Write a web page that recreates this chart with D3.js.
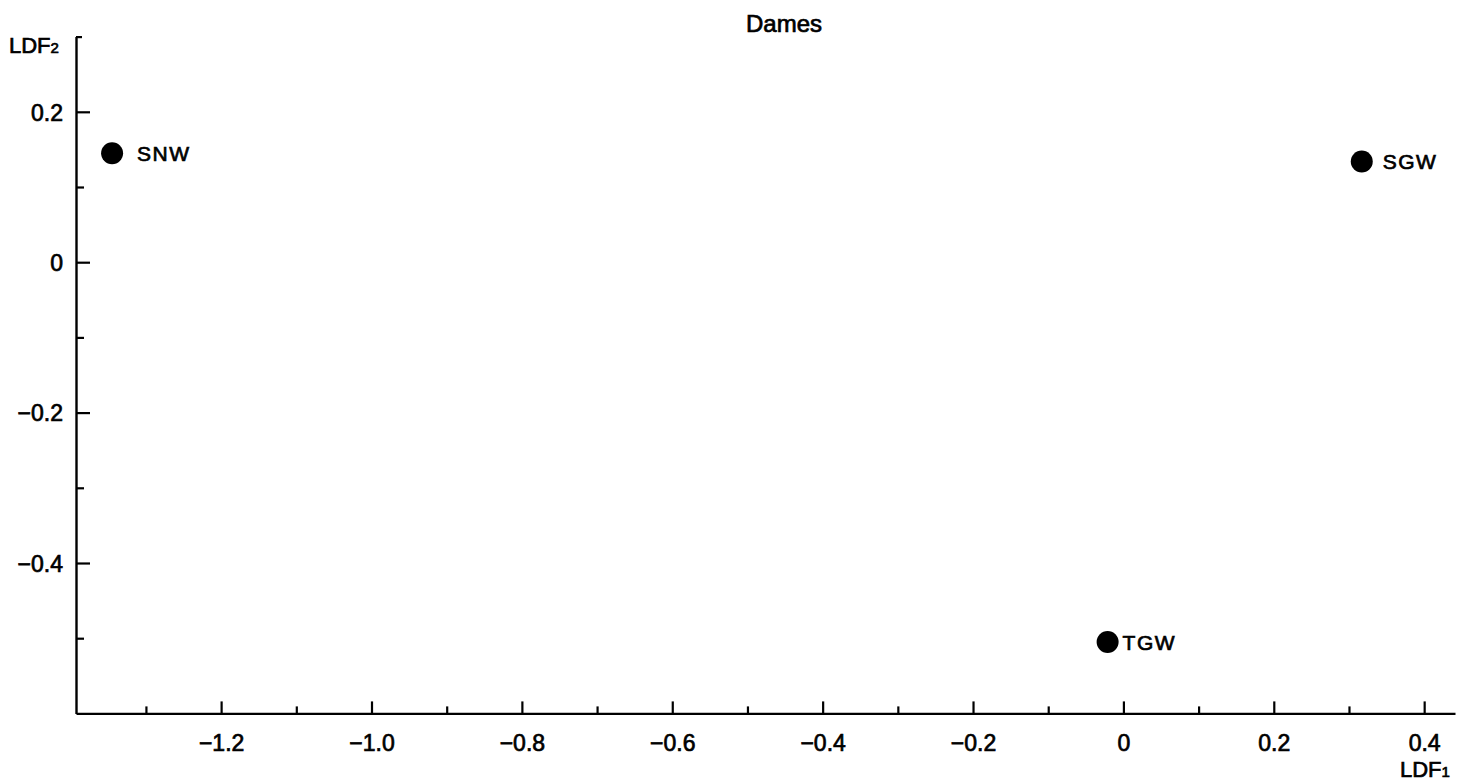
<!DOCTYPE html>
<html>
<head>
<meta charset="utf-8">
<script src="https://cdn.jsdelivr.net/npm/d3@7"></script>
<style>
  html, body { margin: 0; padding: 0; background: #fff; }
  svg { display: block; }
  text { font-family: "Liberation Sans", Arial, Helvetica, sans-serif; fill: #000; stroke: #000; stroke-width: 0.7px; }
  .domain { stroke: #000; stroke-width: 2.4px; }
  .tick line { stroke: #000; stroke-width: 2.2px; }
</style>
</head>
<body>
<svg id="chart" width="1462" height="784"></svg>
<script>
// Group centroids on the first two linear discriminant functions
const groups = ["SNW", "SGW", "TGW"];
const ldf1 = [-1.345, 0.317, -0.021];
const ldf2 = [0.145, 0.134, -0.505];

// Axis ticks
const xMajorTicks = [-1.2, -1.0, -0.8, -0.6, -0.4, -0.2, 0, 0.2, 0.4];
const xMajorLabels = ["\u22121.2", "\u22121.0", "\u22120.8", "\u22120.6", "\u22120.4", "\u22120.2", "0", "0.2", "0.4"];
const xMinorTicks = [-1.3, -1.1, -0.9, -0.7, -0.5, -0.3, -0.1, 0.1, 0.3];
const yMajorTicks = [0.2, 0, -0.2, -0.4];
const yMajorLabels = ["0.2", "0", "\u22120.2", "\u22120.4"];
const yMinorTicks = [0.1, -0.1, -0.3, -0.5];
const yTopTick = [0.3];

const svg = d3.select("#chart");

const x = d3.scaleLinear().domain([-1.393, 0.441]).range([76, 1455]);
const y = d3.scaleLinear().domain([-0.6, 0.3]).range([713.4, 36.6]);

// x axis: ticks point up into the plot
const xAxisG = svg.append("g").attr("transform", `translate(0,${y(-0.6)})`);
xAxisG.call(
  d3.axisBottom(x)
    .tickValues(xMajorTicks)
    .tickSizeInner(-12).tickSizeOuter(0)
    .tickFormat((d, i) => xMajorLabels[i])
);
xAxisG.selectAll(".tick text").attr("font-size", 23).attr("dy", "0.71em").attr("y", 21);

svg.append("g").attr("transform", `translate(0,${y(-0.6)})`)
  .call(d3.axisBottom(x).tickValues(xMinorTicks).tickSizeInner(-7).tickSizeOuter(0).tickFormat(""))
  .select(".domain").remove();

// y axis: ticks point right into the plot
const yAxisG = svg.append("g").attr("transform", `translate(${x(-1.393)},0)`);
yAxisG.call(
  d3.axisLeft(y)
    .tickValues(yMajorTicks)
    .tickSizeInner(-14).tickSizeOuter(0)
    .tickFormat((d, i) => yMajorLabels[i])
);
yAxisG.selectAll(".tick text").attr("font-size", 23).attr("x", -13).attr("dy", "0.36em");

svg.append("g").attr("transform", `translate(${x(-1.393)},0)`)
  .call(d3.axisLeft(y).tickValues(yMinorTicks).tickSizeInner(-8).tickSizeOuter(0).tickFormat(""))
  .select(".domain").remove();

svg.append("g").attr("transform", `translate(${x(-1.393)},0)`)
  .call(d3.axisLeft(y).tickValues(yTopTick).tickSizeInner(-6).tickSizeOuter(0).tickFormat(""))
  .select(".domain").remove();

svg.selectAll(".tick line").attr("stroke-width", 2.2);

// Title and axis names
svg.append("text").attr("x", 784).attr("y", 32).attr("text-anchor", "middle")
  .attr("font-size", 24).text("Dames");

const ldf2Label = svg.append("text").attr("x", 9).attr("y", 53).attr("font-size", 22);
ldf2Label.append("tspan").text("LDF");
ldf2Label.append("tspan").attr("font-size", 15).text("2");

const ldf1Label = svg.append("text").attr("x", 1400).attr("y", 777).attr("font-size", 22);
ldf1Label.append("tspan").text("LDF");
ldf1Label.append("tspan").attr("font-size", 15).text("1");

// Group points and labels
const labelOffset = [25, 21, 15];
const pts = svg.append("g").selectAll("g").data(groups).join("g");
pts.append("circle")
  .attr("cx", (d, i) => x(ldf1[i]))
  .attr("cy", (d, i) => y(ldf2[i]))
  .attr("r", 11)
  .attr("fill", "#000");
pts.append("text")
  .attr("x", (d, i) => x(ldf1[i]) + labelOffset[i])
  .attr("y", (d, i) => y(ldf2[i]))
  .attr("dy", "0.36em")
  .attr("font-size", 21)
  .attr("letter-spacing", 1.5)
  .text(d => d);
</script>
</body>
</html>
